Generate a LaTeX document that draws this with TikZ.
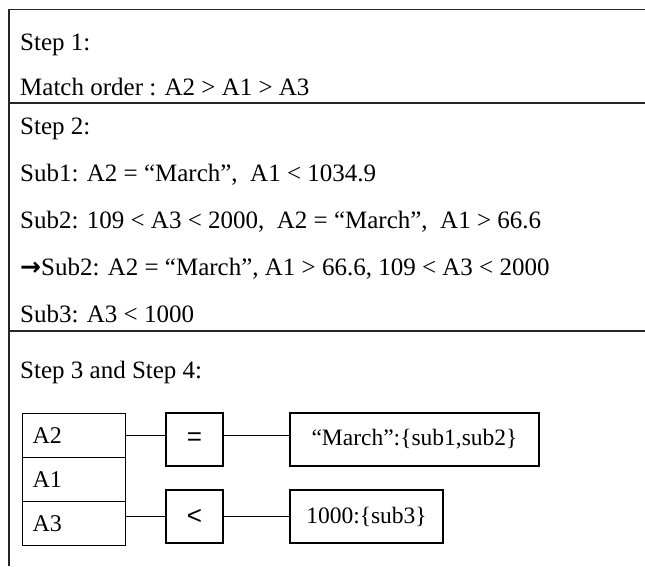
\documentclass[tikz,border=0pt]{standalone}
\usepackage{fontspec}
\setmainfont{Liberation Serif}
\newfontfamily\opfont{Liberation Sans}
\newfontfamily\arrowfont{DejaVu Sans}
\begin{document}
\begin{tikzpicture}[x=1pt,y=-1pt,
  rule/.style={line width=1.2pt, black!85},
  txt/.style={anchor=base west, inner sep=0pt, font=\fontsize{25}{30}\selectfont},
  cell/.style={draw, line width=1.2pt, anchor=north west, minimum width=103pt,
    minimum height=44pt, inner xsep=10pt, text width=83pt, align=left,
    font=\fontsize{24}{28}\selectfont},
  opbox/.style={draw, line width=1.2pt, minimum width=57pt, minimum height=53pt,
    inner sep=0pt, font=\opfont\fontsize{26}{30}\selectfont},
  valbox/.style={draw, line width=1.2pt, minimum height=53pt, inner sep=0pt,
    font=\fontsize{23.5}{28}\selectfont},
  link/.style={line width=1.2pt}]
\useasboundingbox (0,0) rectangle (645,566);

% frame: left edge, top edge and the two section rules
\draw[rule] (9,566) -- (9,9.3) -- (645,9.3);
\draw[rule] (9,103) -- (645,103);
\draw[rule] (9,331) -- (645,331);

% step 1
\node[txt] (s1) at (20,50) {Step 1:};
\node[txt] (mo) at (20,95) {Match order : A2 > A1 > A3};

% step 2
\node[txt] (s2) at (20,134) {Step 2:};
\node[txt] (sub1) at (20,181) {Sub1: A2 = “March”, \ A1 < 1034.9};
\node[txt] (sub2) at (20,228) {Sub2: 109 < A3 < 2000, \ A2 = “March”, \ A1 > 66.6};
\node[txt] (sub2b) at (20,275) {{\arrowfont\bfseries →}Sub2: A2 = “March”, A1 > 66.6, 109 < A3 < 2000};
\node[txt] (sub3) at (20,322) {Sub3: A3 < 1000};

% steps 3 and 4
\node[txt] (s34) at (20,378) {Step 3 and Step 4:};

\node[cell] (a2) at (22,413) {A2};
\node[cell] (a1) at (22,457) {A1};
\node[cell] (a3) at (22,501) {A3};

\node[opbox] (eq) at (194.5,439.5) {=};
\node[opbox] (lt) at (194.5,516.5) {<};
\node[valbox, minimum width=249pt] (mar) at (414.5,439.5) {“March”:\{sub1,sub2\}};
\node[valbox, minimum width=153pt] (k1000) at (366.5,516.5) {1000:\{sub3\}};

\draw[link] (a2.east) -- (eq.west |- a2.east);
\draw[link] (eq.east |- a2.east) -- (mar.west |- a2.east);
\draw[link] (a3.east |- lt.west) -- (lt.west);
\draw[link] (lt.east) -- (k1000.west);
\end{tikzpicture}
\end{document}
